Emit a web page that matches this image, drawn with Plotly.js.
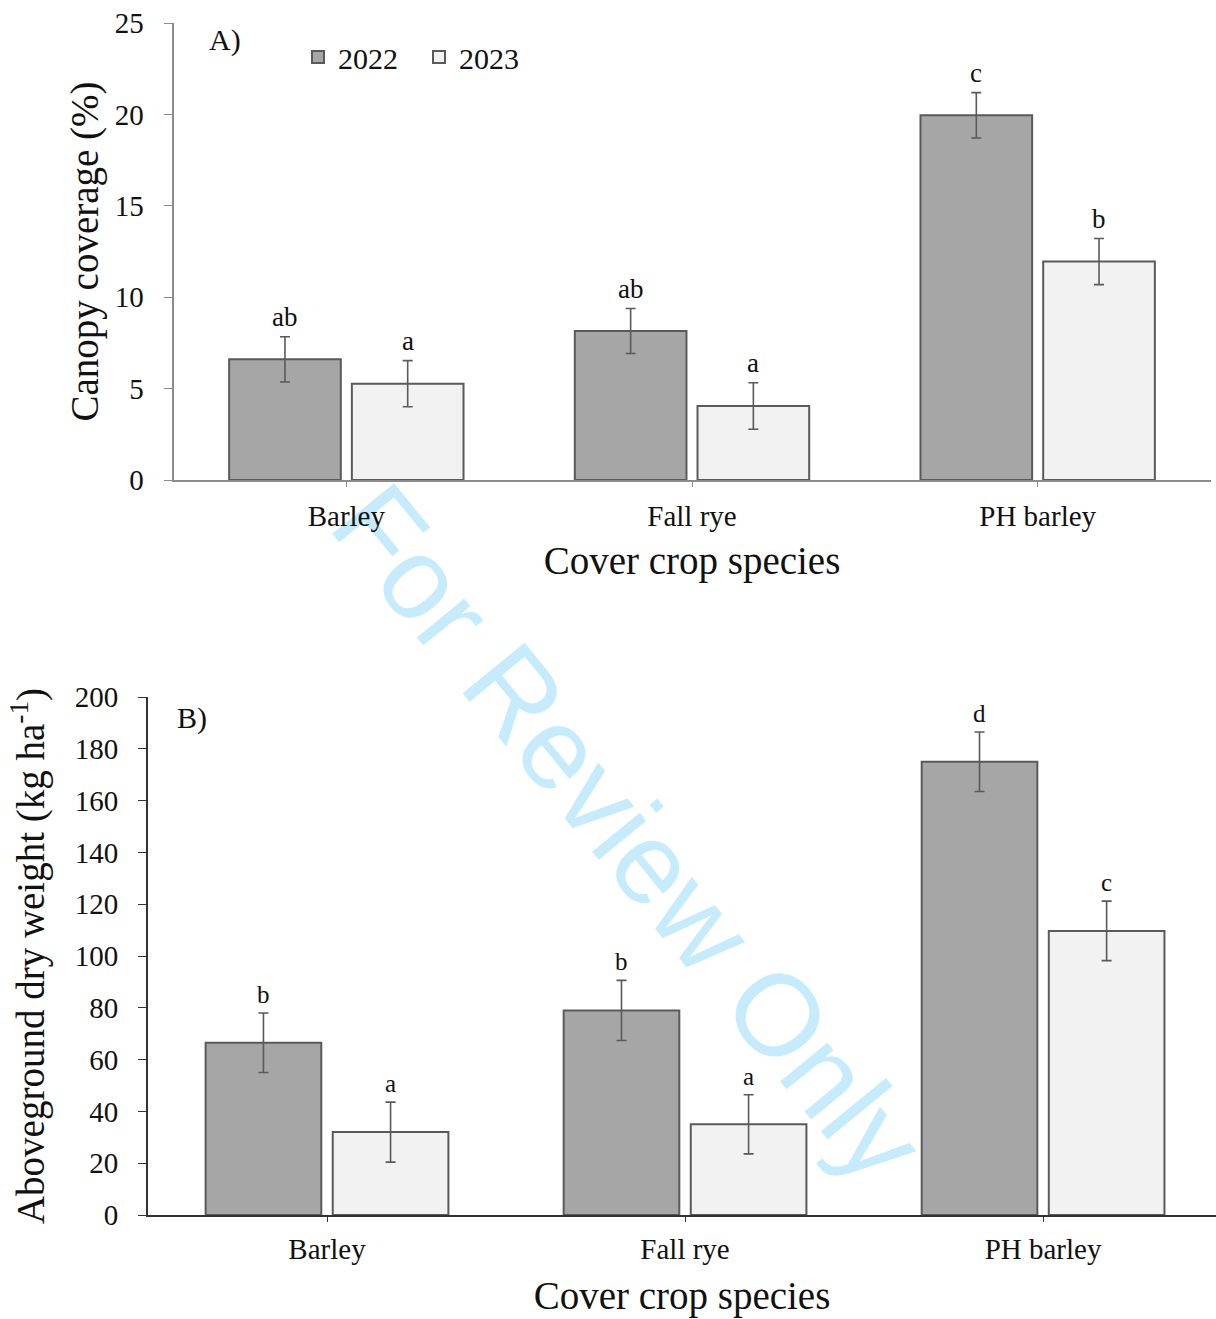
<!DOCTYPE html>
<html>
<head>
<meta charset="utf-8">
<script src="https://cdn.plot.ly/plotly-3.0.1.min.js"></script>
<style>html,body{margin:0;padding:0;background:#fff;}#chart{width:1216px;height:1319px;}</style>
</head>
<body>
<div id="chart"></div>
<script>
// ---- data ----
const categories = ["Barley", "Fall rye", "PH barley"];
const years = ["2022", "2023"];

// Panel A: canopy coverage (%)
const canopy2022 = [6.6, 8.15, 19.95];
const canopy2022Err = [1.24, 1.23, 1.24];
const canopy2023 = [5.27, 4.05, 11.95];
const canopy2023Err = [1.26, 1.27, 1.26];
const canopyLetters2022 = ["ab", "ab", "c"];
const canopyLetters2023 = ["a", "a", "b"];

// Panel B: aboveground dry weight (kg ha-1)
const weight2022 = [66.5, 79.0, 175.0];
const weight2022Err = [11.5, 11.6, 11.5];
const weight2023 = [32.0, 35.0, 109.7];
const weight2023Err = [11.6, 11.4, 11.5];
const weightLetters2022 = ["b", "b", "d"];
const weightLetters2023 = ["a", "a", "c"];

const panelLabels = ["A)", "B)"];
const yTitles = ["Canopy coverage (%)", "Aboveground dry weight (kg ha<sup>-1</sup>)"];
const xTitle = "Cover crop species";
const watermark = "For Review Only";

// ---- style ----
const SERIF = "Liberation Serif, Times New Roman, serif";
const fill2022 = "#a6a6a6";
const fill2023 = "#f2f2f2";
const edge = "#5a5a5a";
const BARGAP = 0.29;
const GROUPGAP = 0.09;
const H = 1319, W = 1216;

function barTrace(name, y, err, fill, xa, ya, showlegend) {
  return {
    type: "bar", name: name, x: categories, y: y,
    xaxis: xa, yaxis: ya, showlegend: showlegend,
    marker: {color: fill, line: {color: edge, width: 2}},
    error_y: {type: "data", array: err, visible: true, color: edge, thickness: 1.6, width: 5},
    hoverinfo: "skip"
  };
}

const data = [
  barTrace(years[0], canopy2022, canopy2022Err, fill2022, "x", "y", true),
  barTrace(years[1], canopy2023, canopy2023Err, fill2023, "x", "y", true),
  barTrace(years[0], weight2022, weight2022Err, fill2022, "x2", "y2", false),
  barTrace(years[1], weight2023, weight2023Err, fill2023, "x2", "y2", false)
];

// offset of each bar of the group from the category centre (category units)
const half = (1 - BARGAP) / 4;

const annotations = [];
function letters(vals, errs, labs, sign, xref, yref, size) {
  labs.forEach((t, i) => {
    annotations.push({
      xref: xref, yref: yref, x: i + sign * half, y: vals[i] + errs[i],
      text: t, showarrow: false, yanchor: "bottom", yshift: 3,
      font: {family: SERIF, size: size, color: "#111"}
    });
  });
}
letters(canopy2022, canopy2022Err, canopyLetters2022, -1, "x", "y", 27);
letters(canopy2023, canopy2023Err, canopyLetters2023, 1, "x", "y", 27);
letters(weight2022, weight2022Err, weightLetters2022, -1, "x2", "y2", 25);
letters(weight2023, weight2023Err, weightLetters2023, 1, "x2", "y2", 25);

annotations.push({xref: "paper", yref: "paper", x: 207/W, y: 1 - 40/H, xanchor: "left", yanchor: "middle",
  text: panelLabels[0], showarrow: false, font: {family: SERIF, size: 30, color: "#111"}});
annotations.push({xref: "paper", yref: "paper", x: 175/W, y: 1 - 718/H, xanchor: "left", yanchor: "middle",
  text: panelLabels[1], showarrow: false, font: {family: SERIF, size: 30, color: "#111"}});

// watermark drawn beneath the chart, as the label of an invisible line
const shapes = [{
  type: "line", xref: "paper", yref: "paper", layer: "below",
  x0: 354/W, y0: 1 - 480/H, x1: 920/W, y1: 1 - 1172/H,
  line: {color: "rgba(0,0,0,0)", width: 0},
  label: {text: watermark, textposition: "middle", yanchor: "middle", textangle: "auto",
    font: {family: "Liberation Sans, Arial, sans-serif", size: 116, color: "#c6ebfc"}}
}];

function yDom(topPx, botPx) { return [1 - botPx / H, 1 - topPx / H]; }

const layout = {
  width: W, height: H,
  margin: {l: 0, r: 0, t: 0, b: 0},
  paper_bgcolor: "#fff", plot_bgcolor: "rgba(0,0,0,0)",
  barmode: "group", bargap: BARGAP, bargroupgap: GROUPGAP,
  font: {family: SERIF, color: "#111"},
  showlegend: true,
  legend: {orientation: "h", x: 298/W, y: 1 - 57/H, xanchor: "left", yanchor: "middle",
    font: {family: SERIF, size: 30, color: "#111"}, entrywidth: 76, entrywidthmode: "pixels",
    bgcolor: "rgba(0,0,0,0)", borderwidth: 0, traceorder: "normal"},
  xaxis: {domain: [173.5/W, 1210.5/W], range: [-0.5, 2.5], type: "category",
    showline: true, linecolor: "#8c8c8c", linewidth: 2, ticks: "outside", ticklen: 5, tickcolor: "#8c8c8c",
    showgrid: false, zeroline: false, automargin: false, anchor: "y", ticklabelstandoff: 4,
    tickfont: {family: SERIF, size: 29, color: "#111"},
    title: {text: xTitle, font: {family: SERIF, size: 39, color: "#111"}, standoff: 16}},
  yaxis: {domain: yDom(23, 480), range: [0, 25], dtick: 5, anchor: "x",
    showline: true, linecolor: "#8c8c8c", linewidth: 2, ticks: "outside", ticklen: 8, tickcolor: "#8c8c8c",
    showgrid: false, zeroline: false, automargin: false, ticklabelstandoff: 14,
    tickfont: {family: SERIF, size: 29, color: "#111"},
    title: {text: yTitles[0], font: {family: SERIF, size: 39, color: "#111"}, standoff: 4}},
  xaxis2: {domain: [148/W, 1], range: [-0.5, 2.483], type: "category",
    showline: true, linecolor: "#333", linewidth: 2, ticks: "outside", ticklen: 5, tickcolor: "#333",
    showgrid: false, zeroline: false, automargin: false, anchor: "y2", ticklabelstandoff: 2,
    tickfont: {family: SERIF, size: 29, color: "#111"},
    title: {text: xTitle, font: {family: SERIF, size: 39, color: "#111"}, standoff: 18}},
  yaxis2: {domain: yDom(697, 1215), range: [0, 200], dtick: 20, anchor: "x2",
    showline: true, linecolor: "#333", linewidth: 2, ticks: "outside", ticklen: 8, tickcolor: "#333",
    showgrid: false, zeroline: false, automargin: false, ticklabelstandoff: 14,
    tickfont: {family: SERIF, size: 29, color: "#111"},
    title: {text: yTitles[1], font: {family: SERIF, size: 39, color: "#111"}, standoff: 18}},
  annotations: annotations,
  shapes: shapes
};

Plotly.newPlot("chart", data, layout, {staticPlot: true, displayModeBar: false});
</script>
</body>
</html>
